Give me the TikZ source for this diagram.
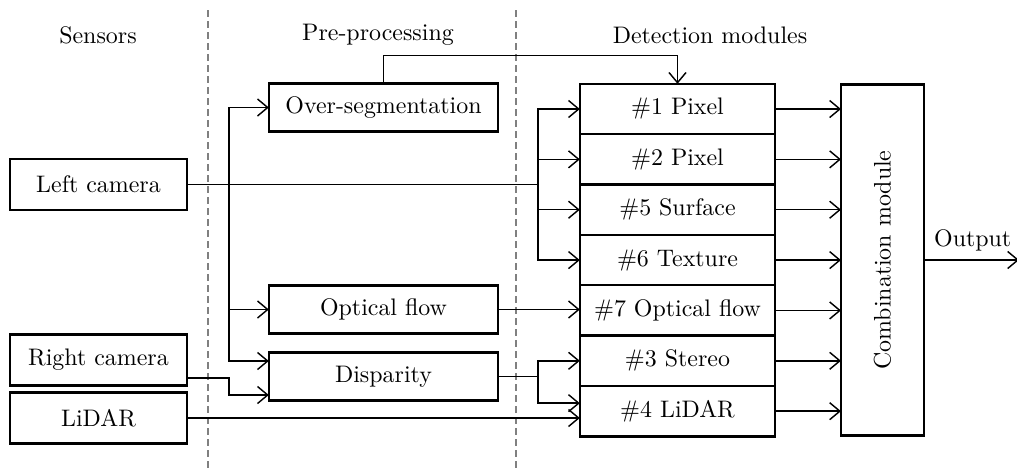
\documentclass[tikz,border=0pt]{standalone}
\usepackage{tikz}
\usetikzlibrary{positioning, arrows.meta, calc}

\begin{document}
\begin{tikzpicture}[
    x=0.0147cm, y=-0.0147cm,
    box/.style={rectangle, draw, line width=1pt, inner sep=0pt, outer sep=0pt, align=center},
    sensor/.style={box, minimum width=2.60cm, minimum height=0.75cm},
    prep/.style={box, minimum width=3.37cm, minimum height=0.71cm},
    module/.style={box, minimum width=2.87cm, minimum height=0.74cm},
    link/.style={semithick, -{Straight Barb[length=1.5mm, width=2.5mm]}},
    plain/.style={semithick},
    divider/.style={gray, thick, dash pattern=on 3pt off 1.6pt}
]
    \useasboundingbox (0,0) rectangle (1017,473);

    \node (hsens) at (98,35) {Sensors};
    \node (hprep) at (378,35) {Pre-processing};
    \node (hdet) at (710,35) {Detection modules};

    \draw[divider] (208,10) -- (208,470);
    \draw[divider] (516,10) -- (516,470);

    \node[sensor] (left) at (98.5,184.5) {Left camera};
    \node[sensor] (right) at (98.5,360) {Right camera};
    \node[sensor] (lidar) at (98.5,418) {LiDAR};

    \node[prep] (overseg) at (383.5,107.5) {Over-segmentation};
    \node[prep] (flow) at (383.5,309.5) {Optical flow};
    \node[prep] (disp) at (383.5,376.5) {Disparity};

    \node[module] (m1) at (677.5,109) {\#1 Pixel};
    \node[module, below=0pt of m1] (m2) {\#2 Pixel};
    \node[module, below=0pt of m2] (m5) {\#5 Surface};
    \node[module, below=0pt of m5] (m6) {\#6 Texture};
    \node[module, below=0pt of m6] (m7) {\#7 Optical flow};
    \node[module, below=0pt of m7] (m3) {\#3 Stereo};
    \node[module, below=0pt of m3] (m4) {\#4 LiDAR};

    \node[box, minimum width=1.22cm, minimum height=5.16cm] (comb) at (882.5,260)
        {\rotatebox{90}{Combination module}};

    \coordinate (busA) at (229,184.5);
    \coordinate (busB) at (538,184.5);
    \coordinate (busC) at (538,376.5);
    \coordinate (out) at (1019,260);

    \draw[plain] (left.east) -- (busB);
    \foreach \m in {m1,m2,m5,m6}
        \draw[link] (busB) |- (\m.west);
    \draw[link] (busA) |- (overseg.west);
    \draw[link] (busA) |- (flow.west);
    \draw[link] (busA) |- ($(disp.west)+(0,-15.5)$);
    \draw[link] ($(right.east)+(0,18)$) -- ++(42,0) |- ($(disp.west)+(0,18.5)$);

    \draw[link] (overseg.north) -- ++(0,-28) -| (m1.north);
    \draw[link] (flow.east) -- (flow.east -| m7.west);

    \draw[plain] (disp.east) -- (busC);
    \draw[link] (busC) |- (m3.west);
    \draw[link] (busC) |- ($(m4.west)+(0,-8)$);
    \draw[link] (lidar.east) -- (lidar.east -| m4.west);

    \foreach \m in {m1,m2,m5,m6,m7,m3,m4}
        \draw[link] (\m.east) -- (\m.east -| comb.west);
    \draw[link] (comb) -- (out) node[midway, above, xshift=0.5pt] {Output};
\end{tikzpicture}
\end{document}
